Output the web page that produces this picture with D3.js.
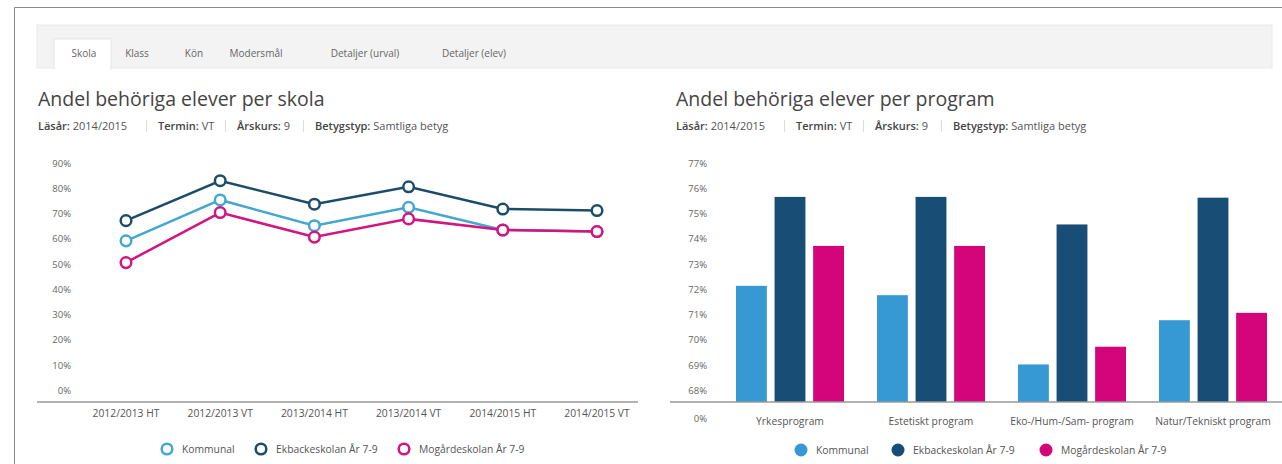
<!DOCTYPE html>
<html>
<head>
  <meta charset="UTF-8">
  <title>Andel behöriga elever</title>
  <script src="https://d3js.org/d3.v7.min.js"></script>
  <style>
    body { margin: 0; padding: 0; background: #fff; }
    svg { display: block; font-family: "Open Sans", sans-serif; }
    .tick-label { font-size: 9.5px; fill: #666; }
    .cat-label { font-size: 10.3px; fill: #555; }
    .title { font-size: 19.5px; fill: #444; }
    .sub { font-size: 11px; fill: #555; }
    .sub-b { font-weight: 600; fill: #444; }
    .tab { font-size: 10px; fill: #666; }
    .legend { font-size: 10.3px; fill: #555; }
  </style>
</head>
<body>
  <svg id="chart" width="1282" height="464"></svg>

  <script>
    // data
    var periods = ["2012/2013 HT", "2012/2013 VT", "2013/2014 HT", "2013/2014 VT", "2014/2015 HT", "2014/2015 VT"];
    var kommunalLine = [59.3, 75.5, 65.3, 72.6, 63.6, 63.0];
    var ekbackeLine = [67.3, 83.1, 73.8, 80.7, 71.9, 71.3];
    var mogardeLine = [50.7, 70.5, 60.8, 68.0, 63.6, 63.0];
    var lineTicks = [0, 10, 20, 30, 40, 50, 60, 70, 80, 90];

    var programs = ["Yrkesprogram", "Estetiskt program", "Eko-/Hum-/Sam- program", "Natur/Tekniskt program"];
    var kommunalBar = [72.15, 71.78, 69.04, 70.79];
    var ekbackeBar = [75.67, 75.67, 74.58, 75.64];
    var mogardeBar = [73.73, 73.73, 69.74, 71.08];
    var barTicks = [68, 69, 70, 71, 72, 73, 74, 75, 76, 77];

    var seriesNames = ["Kommunal", "Ekbackeskolan År 7-9", "Mogårdeskolan År 7-9"];
    var lineColors = ["#44a7cf", "#1c4d68", "#d3157f"];
    var barColors = ["#3799d3", "#184d76", "#d4047b"];

    var tabs = ["Skola", "Klass", "Kön", "Modersmål", "Detaljer (urval)", "Detaljer (elev)"];
    var tabX = [84, 137, 194, 256, 365, 474];

    var svg = d3.select("#chart");

    // ram och flikar
    svg.append("path").attr("d", "M14.5,464V7.5H1282").attr("fill", "none").attr("stroke", "#8a8a8a");
    svg.append("rect").attr("x", 37).attr("y", 25).attr("width", 1235).attr("height", 43)
      .attr("fill", "#f3f3f3").attr("stroke", "#e9e9e9");
    svg.append("rect").attr("x", 54).attr("y", 39).attr("width", 57).attr("height", 30)
      .attr("fill", "#fff").attr("stroke", "#e6e6e6");
    svg.append("rect").attr("x", 55).attr("y", 66).attr("width", 55).attr("height", 4).attr("fill", "#fff");
    svg.selectAll(".tab").data(tabs).enter().append("text")
      .attr("class", "tab").attr("x", (d, i) => tabX[i]).attr("y", 57)
      .attr("text-anchor", "middle").text(d => d);

    function header(x0, title) {
      svg.append("text").attr("class", "title").attr("x", x0).attr("y", 106).text(title);
      var parts = [["Läsår:", " 2014/2015"], ["Termin:", " VT"], ["Årskurs:", " 9"], ["Betygstyp:", " Samtliga betyg"]];
      var offs = [0, 120, 199, 277];
      parts.forEach(function (p, i) {
        var t = svg.append("text").attr("class", "sub").attr("x", x0 + offs[i]).attr("y", 130);
        t.append("tspan").attr("class", "sub-b").text(p[0]);
        t.append("tspan").text(p[1]);
        if (i > 0) {
          svg.append("line").attr("x1", x0 + offs[i] - 11.5).attr("x2", x0 + offs[i] - 11.5)
            .attr("y1", 120).attr("y2", 132).attr("stroke", "#ddd");
        }
      });
    }
    header(38, "Andel behöriga elever per skola");
    header(676, "Andel behöriga elever per program");

    var axisY = 402;

    // linjediagram
    var xL = d3.scalePoint().domain(periods).range([126, 597]);
    var yL = d3.scaleLinear().domain([0, 90]).range([390.7, 163.3]);

    svg.append("g").selectAll("text").data(lineTicks).enter().append("text")
      .attr("class", "tick-label").attr("x", 71).attr("y", d => yL(d)).attr("dy", "0.35em")
      .attr("text-anchor", "end").text(d => d + "%");

    svg.append("line").attr("x1", 37).attr("x2", 638).attr("y1", axisY).attr("y2", axisY)
      .attr("stroke", "#999").attr("stroke-width", 1.5);

    svg.append("g").selectAll("text").data(periods).enter().append("text")
      .attr("class", "cat-label").attr("x", d => xL(d)).attr("y", 413).attr("dy", "0.35em")
      .attr("text-anchor", "middle").text(d => d);

    var lineSeries = [kommunalLine, ekbackeLine, mogardeLine];
    var line = d3.line().x((d, i) => xL(periods[i])).y(d => yL(d));
    [0, 1, 2].forEach(function (s) {
      var vals = lineSeries[s];
      var g = svg.append("g");
      g.append("path").attr("d", line(vals)).attr("fill", "none")
        .attr("stroke", lineColors[s]).attr("stroke-width", 2.5);
      g.selectAll("circle").data(vals).enter().append("circle")
        .attr("cx", (d, i) => xL(periods[i])).attr("cy", d => yL(d)).attr("r", 5.3)
        .attr("fill", "#fff").attr("stroke", lineColors[s]).attr("stroke-width", 2.5);
    });

    // förklaring, linjer
    var legLx = [167, 261, 404];
    seriesNames.forEach(function (n, i) {
      svg.append("circle").attr("cx", legLx[i]).attr("cy", 449).attr("r", 5.3)
        .attr("fill", "#fff").attr("stroke", lineColors[i]).attr("stroke-width", 2.5);
      svg.append("text").attr("class", "legend").attr("x", legLx[i] + 15).attr("y", 449)
        .attr("dy", "0.35em").text(n);
    });

    // stapeldiagram
    var x0 = d3.scaleBand().domain(programs).range([719.5, 1283.5]);
    var x1 = d3.scaleBand().domain([0, 1, 2]).range([0, 108]).paddingInner(0.2);
    var yR = d3.scaleLinear().domain([68, 77]).range([390.7, 163.3]);

    svg.append("g").selectAll("text").data(barTicks).enter().append("text")
      .attr("class", "tick-label").attr("x", 707).attr("y", d => yR(d)).attr("dy", "0.35em")
      .attr("text-anchor", "end").text(d => d + "%");
    svg.append("text").attr("class", "tick-label").attr("x", 707).attr("y", 419).attr("dy", "0.35em")
      .attr("text-anchor", "end").text("0%");

    var barSeries = [kommunalBar, ekbackeBar, mogardeBar];
    programs.forEach(function (p, pi) {
      var gx = x0(p) + x0.bandwidth() / 2 - 54;
      barSeries.forEach(function (vals, s) {
        svg.append("rect")
          .attr("x", gx + x1(s)).attr("width", x1.bandwidth())
          .attr("y", yR(vals[pi])).attr("height", axisY - yR(vals[pi]))
          .attr("fill", barColors[s]);
      });
    });

    svg.append("line").attr("x1", 670).attr("x2", 1282).attr("y1", axisY).attr("y2", axisY)
      .attr("stroke", "#999").attr("stroke-width", 1.5);

    svg.append("g").selectAll("text").data(programs).enter().append("text")
      .attr("class", "cat-label").attr("x", d => x0(d) + x0.bandwidth() / 2).attr("y", 421).attr("dy", "0.35em")
      .attr("text-anchor", "middle").text(d => d);

    // förklaring, staplar
    var legRx = [801, 898, 1046];
    seriesNames.forEach(function (n, i) {
      svg.append("circle").attr("cx", legRx[i]).attr("cy", 450).attr("r", 6.5).attr("fill", barColors[i]);
      svg.append("text").attr("class", "legend").attr("x", legRx[i] + 15).attr("y", 450)
        .attr("dy", "0.35em").text(n);
    });
  </script>
</body>
</html>
